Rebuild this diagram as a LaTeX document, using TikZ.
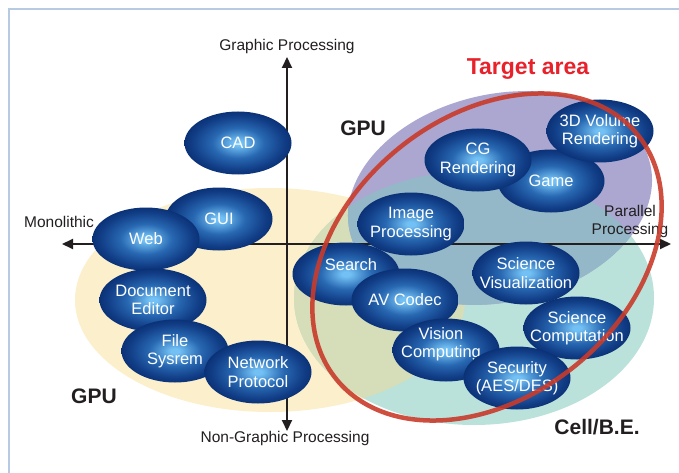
\documentclass[tikz,border=0pt]{standalone}
\usepackage{fontspec}
\setmainfont{Liberation Sans}
\usetikzlibrary{arrows.meta,shapes.geometric}
\definecolor{framec}{HTML}{B7C9E3}
\definecolor{yellowc}{HTML}{FCEFCB}
\definecolor{tealc}{HTML}{BAE2DA}
\definecolor{ytc}{HTML}{D5DDB9}
\definecolor{purplec}{HTML}{ABA7D1}
\definecolor{ptc}{HTML}{95B8C8}
\definecolor{redline}{HTML}{C93B2B}
\definecolor{redtext}{HTML}{E8212B}
\definecolor{axisc}{HTML}{231F20}
\definecolor{nlight}{HTML}{72C0F4}
\definecolor{nmid}{HTML}{2868B2}
\definecolor{ndark}{HTML}{123F88}
\definecolor{nedge}{HTML}{0B3277}
\pgfdeclareradialshading{blobshade}{\pgfpoint{0bp}{0bp}}{color(0bp)=(nlight); color(2bp)=(nlight); color(12bp)=(nmid); color(21bp)=(ndark); color(25bp)=(nedge); color(50bp)=(nedge)}
\begin{document}
\begin{tikzpicture}[x=1pt,y=-1pt,
  blob/.style={ellipse, minimum width=107pt, minimum height=63pt, inner sep=0pt, shade, shading=blobshade},
  btext/.style={text=white, font=\fontsize{16.5}{18.5}\selectfont, align=center, inner sep=0pt},
  axlabel/.style={text=axisc, font=\fontsize{15.5}{18}\selectfont, align=center, inner sep=0pt},
  region/.style={text=axisc, font=\bfseries\fontsize{21}{24}\selectfont, inner sep=0pt},
  axisline/.style={draw=axisc, line width=2pt, {Triangle[length=11pt,width=10pt]}-{Triangle[length=11pt,width=10pt]}},
]
\useasboundingbox (0,0) rectangle (679,473);
\fill[white] (0,0) rectangle (679,473);
\draw[framec, line width=2pt] (9,475) -- (9,9) -- (681,9);

% regions
\fill[yellowc] (270,300) ellipse [x radius=195, y radius=112];
\fill[tealc] (474,298) ellipse [x radius=180, y radius=127];
\begin{scope}
  \clip (474,298) ellipse [x radius=180, y radius=127];
  \fill[ytc] (270,300) ellipse [x radius=195, y radius=112];
\end{scope}
\fill[purplec, rotate around={12.5:(500,198)}] (500,198) ellipse [x radius=154, y radius=104];
\begin{scope}
  \clip[rotate around={12.5:(500,198)}] (500,198) ellipse [x radius=154, y radius=104];
  \fill[ptc] (474,298) ellipse [x radius=180, y radius=127];
\end{scope}

% axes
\coordinate (vt) at (287,57);
\coordinate (vb) at (287,431);
\coordinate (hl) at (62,244);
\coordinate (hr) at (671,244);
\draw[axisline] (vb) -- (vt);
\draw[axisline] (hl) -- (hr);

\node[axlabel] (gp) at (287,46) {Graphic Processing};
\node[axlabel] (ngp) at (285,438) {Non-Graphic Processing};
\node[axlabel] (mono) at (59,222) {Monolithic};
\node[axlabel] (par) at (630,221) {Parallel\\Processing};

\node[region] (gpu1) at (363,128) {GPU};
\node[region] (gpu2) at (94,396) {GPU};
\node[region] (cell) at (597,427) {Cell/B.E.};
\node[region, text=redtext, font=\bfseries\fontsize{23}{26}\selectfont] (target) at (528,69) {Target area};

% blobs
\node[blob, label={[btext]center:GUI}] (gui) at (219,219) {};
\node[blob, label={[btext]center:Web}] (web) at (146,239) {};
\node[blob, label={[btext]center:{Document\\Editor}}] (doc) at (153,300) {};
\node[blob, label={[btext]center:{File\\Sysrem}}] (file) at (175,351) {};
\node[blob, label={[btext]center:{Network\\Protocol}}] (net) at (258,372) {};
\node[blob, label={[btext]center:CAD}] (cad) at (238,143) {};
\node[blob, label={[btext,xshift=5pt,yshift=9pt]center:Search}] (search) at (346,274) {};
\node[blob, label={[btext]center:AV Codec}] (av) at (405,300) {};
\node[blob, label={[btext]center:{Image\\Processing}}] (img) at (411,224) {};
\node[blob, label={[btext]center:Game}] (game) at (551,181) {};
\node[blob, label={[btext]center:{CG\\Rendering}}] (cg) at (478,160) {};
\node[blob, label={[btext]center:{3D Volume\\Rendering}}] (vol) at (600,131) {};
\node[blob, label={[btext]center:{Science\\Visualization}}] (svis) at (526,273) {};
\node[blob, label={[btext]center:{Science\\Computation}}] (scomp) at (577,328) {};
\node[blob, label={[btext,xshift=-5pt,yshift=6pt]center:{Vision\\Computing}}] (vision) at (446,350) {};
\node[blob, label={[btext]center:{Security\\(AES/DES)}}] (sec) at (517,378) {};

% target ellipse
\draw[redline, line width=4.5pt, draw opacity=0.9, rotate around={39:(487,257)}] (487,257) ellipse [x radius=194, y radius=140];
\end{tikzpicture}
\end{document}
